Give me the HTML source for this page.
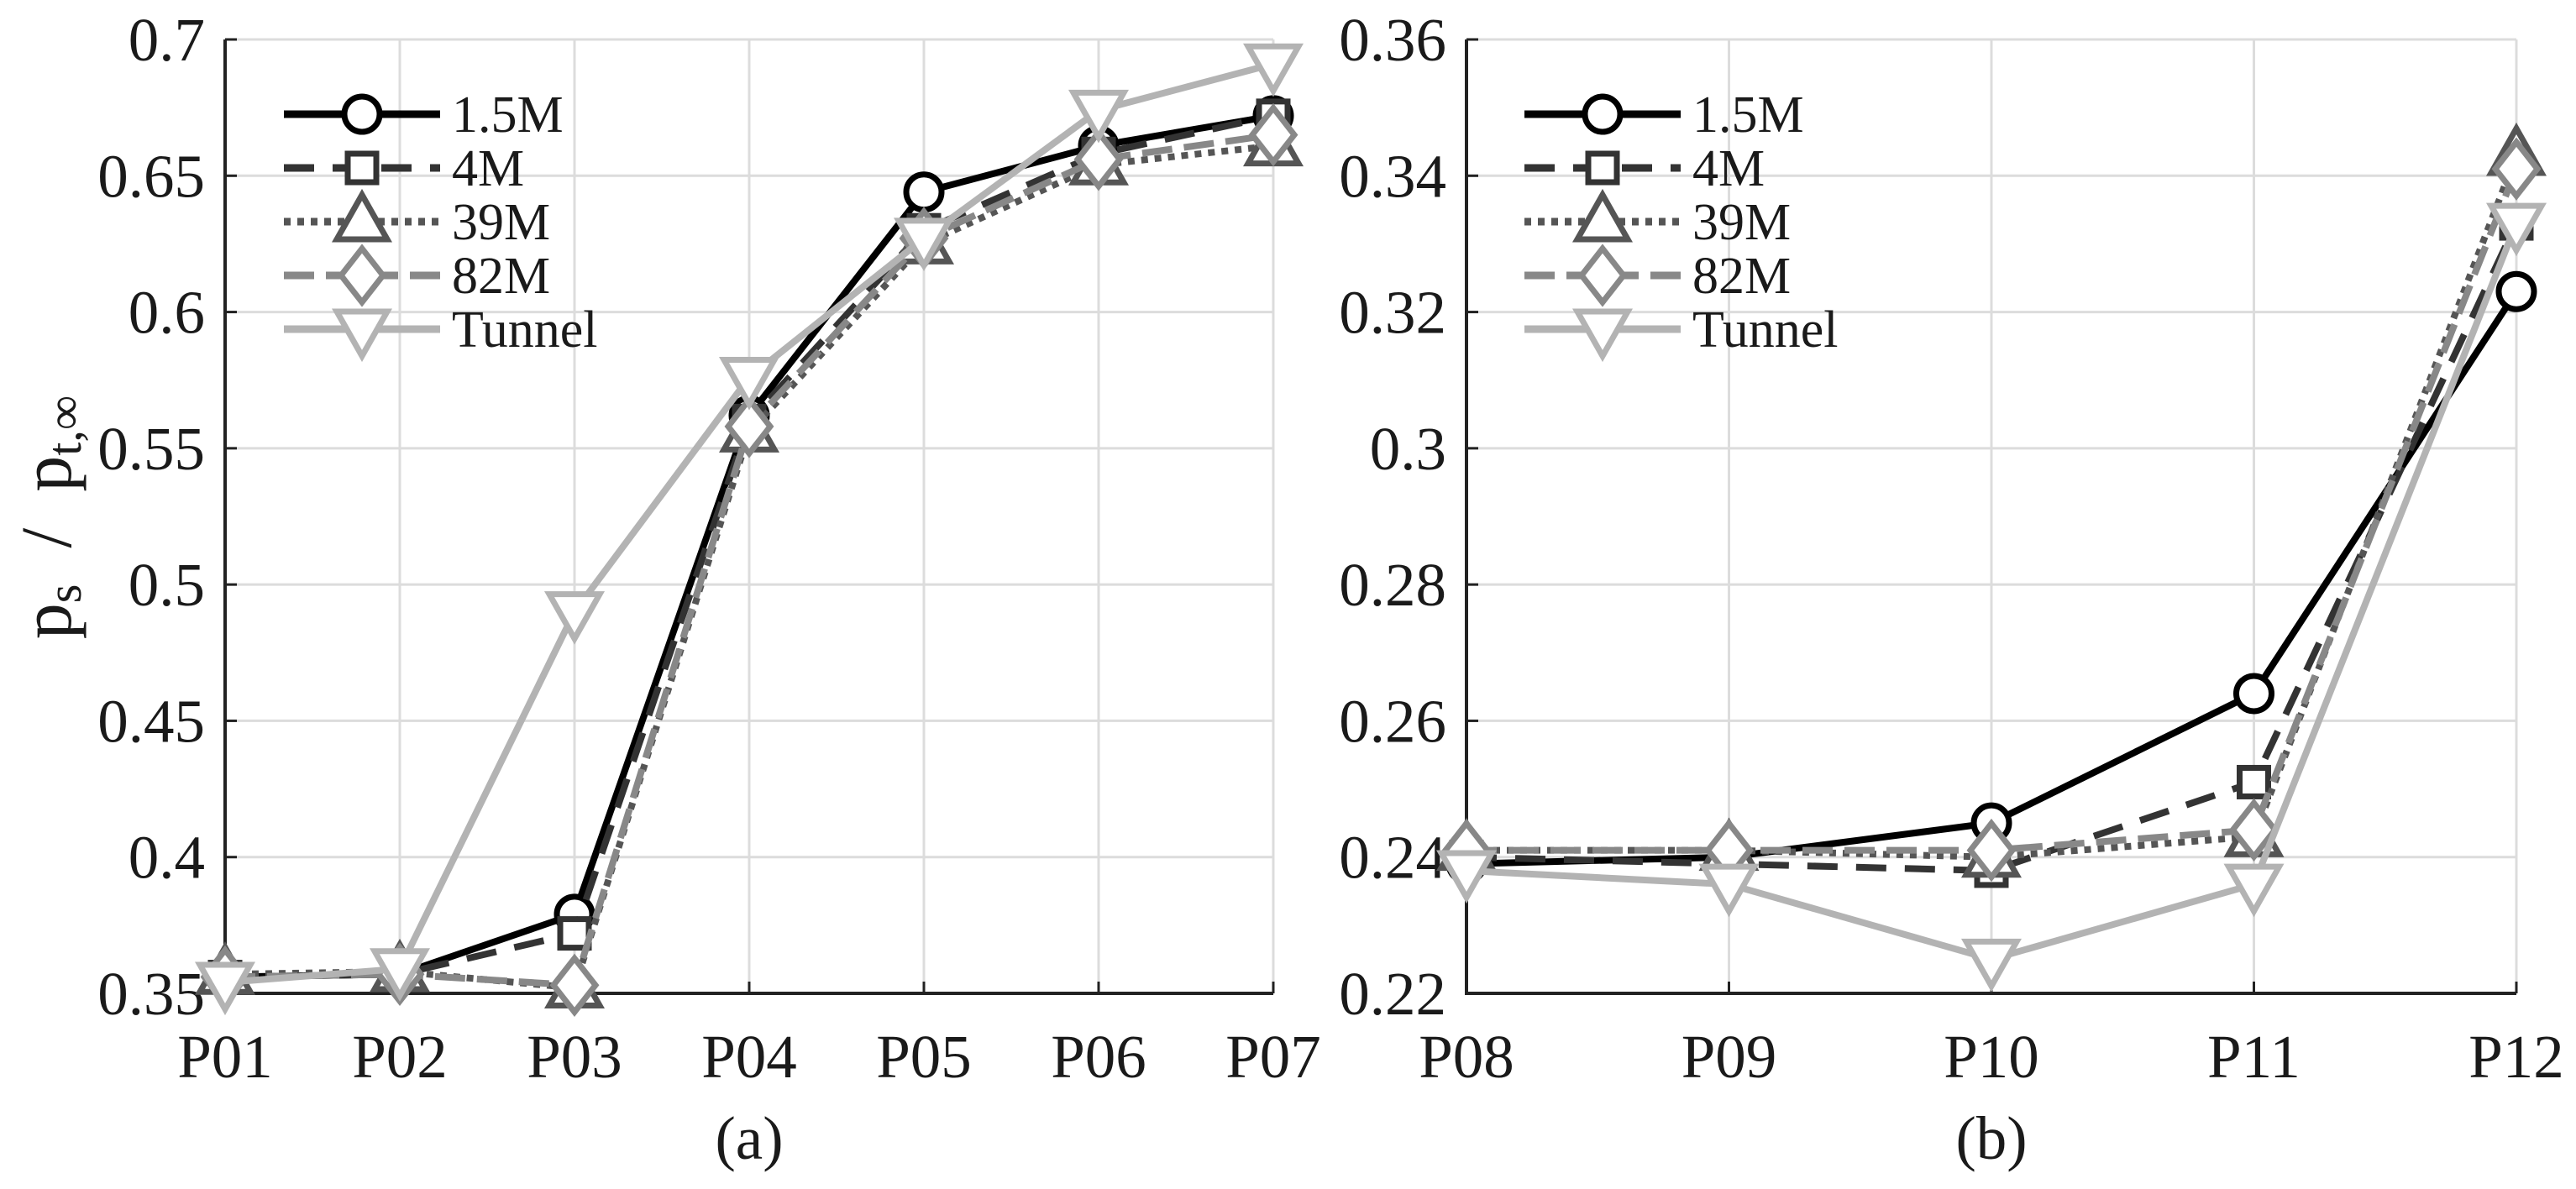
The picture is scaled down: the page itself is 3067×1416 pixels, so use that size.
<!DOCTYPE html>
<html><head><meta charset="utf-8"><style>
html,body{margin:0;padding:0;background:#fff;}
svg{display:block;font-family:"Liberation Serif",serif;}
</style></head><body>
<svg id="chart" width="3067" height="1416" viewBox="0 0 3067 1416" xmlns="http://www.w3.org/2000/svg"></svg>
<script>
const seriesNames = ["1.5M","4M","39M","82M","Tunnel"];
const catsA = ["P01","P02","P03","P04","P05","P06","P07"];
const a15 = [0.356,0.357,0.379,0.562,0.644,0.661,0.672];
const a4 = [0.356,0.357,0.372,0.560,0.630,0.658,0.672];
const a39 = [0.357,0.358,0.352,0.556,0.625,0.654,0.661];
const a82 = [0.356,0.357,0.353,0.558,0.627,0.656,0.665];
const aTun = [0.354,0.359,0.490,0.576,0.627,0.674,0.691];
const ticksA = ["0.35","0.4","0.45","0.5","0.55","0.6","0.65","0.7"];
const catsB = ["P08","P09","P10","P11","P12"];
const b15 = [0.239,0.240,0.245,0.264,0.323];
const b4 = [0.240,0.239,0.238,0.251,0.333];
const b39 = [0.241,0.241,0.240,0.243,0.343];
const b82 = [0.241,0.241,0.241,0.244,0.341];
const bTun = [0.238,0.236,0.225,0.236,0.333];
const ticksB = ["0.22","0.24","0.26","0.28","0.3","0.32","0.34","0.36"];

const NS="http://www.w3.org/2000/svg";
const svg=document.getElementById('chart');
function mk(tag,attrs,parent){const e=document.createElementNS(NS,tag);for(const k in attrs)e.setAttribute(k,attrs[k]);(parent||svg).appendChild(e);return e;}
const styles=[
 {c:"#000",dash:"",m:"circle"},
 {c:"#333",dash:"36 22",m:"square"},
 {c:"#555",dash:"8 8",m:"tri"},
 {c:"#888",dash:"36 14",m:"diamond"},
 {c:"#b3b3b3",dash:"",m:"tridown"}];
function marker(g,type,x,y,col){
  const a={fill:"#fff",stroke:col,"stroke-width":7};
  let e;
  if(type==="circle") e=mk('circle',Object.assign({cx:x,cy:y,r:21},a),g);
  else if(type==="square") e=mk('rect',Object.assign({x:x-17,y:y-17,width:34,height:34},a),g);
  else if(type==="tri") e=mk('polygon',Object.assign({points:`${x},${y-32} ${x+30},${y+21} ${x-30},${y+21}`},a),g);
  else if(type==="diamond") e=mk('polygon',Object.assign({points:`${x},${y-32} ${x+25},${y} ${x},${y+32} ${x-25},${y}`},a),g);
  else e=mk('polygon',Object.assign({points:`${x},${y+32} ${x+30},${y-21} ${x-30},${y-21}`},a),g);
  
  
}
function panel(opt){
  const {x0,x1,y0,y1,vmin,vmax,cats,ticks,series,label,name,legX}=opt;
  const g=mk('g',{});
  
  
  const sx=i=>x0+(x1-x0)*i/(cats.length-1);
  const sy=v=>y1-(v-vmin)/(vmax-vmin)*(y1-y0);
  ticks.forEach(t=>{const y=sy(parseFloat(t));
    const l=mk('line',{x1:x0,x2:x1,y1:y,y2:y,stroke:"#dcdcdc","stroke-width":3},g);
    
    const tk=mk('line',{x1:x0,x2:x0+14,y1:y,y2:y,stroke:"#222","stroke-width":3},g);
    
    const tx=mk('text',{x:x0-24,y:y+25,"text-anchor":"end","font-size":73,fill:"#1a1a1a"},g);
    tx.textContent=t;});
  cats.forEach((c,i)=>{const x=sx(i);
    const l=mk('line',{x1:x,x2:x,y1:y0,y2:y1,stroke:"#dcdcdc","stroke-width":3},g);
    
    const tk=mk('line',{x1:x,x2:x,y1:y1,y2:y1-14,stroke:"#222","stroke-width":3},g);
    
    const tx=mk('text',{x:x,y:1283,"text-anchor":"middle","font-size":73,fill:"#1a1a1a"},g);
    tx.textContent=c;});
  const ax=mk('path',{d:`M${x0},${y0} V${y1} H${x1}`,fill:"none",stroke:"#222","stroke-width":4},g);
  
  const cap=mk('text',{x:(x0+x1)/2,y:1380,"text-anchor":"middle","font-size":73,fill:"#1a1a1a"},g);
  cap.textContent=label;
  for(let s=0;s<series.length;s++){
    const st=styles[s];const vals=series[s];
    const sg=mk('g',{},g);
    
    
    const pts=vals.map((v,i)=>sx(i)+","+sy(v)).join(" ");
    const pl=mk('polyline',{points:pts,fill:"none",stroke:st.c,"stroke-width":8,"stroke-dasharray":st.dash,"stroke-linejoin":"round"},sg);
    
    vals.forEach((v,i)=>marker(sg,st.m,sx(i),sy(v),st.c));
  }
  const lg=mk('g',{},g);
  
  
  seriesNames.forEach((n,s)=>{const st=styles[s];const y=136+s*64;
    const e=mk('g',{},lg);
    
    
    mk('line',{x1:legX,x2:legX+186,y1:y,y2:y,stroke:st.c,"stroke-width":9,"stroke-dasharray":st.dash},e);
    marker(e,st.m,legX+93,y,st.c);
    const t=mk('text',{x:legX+200,y:y+21,"font-size":62,fill:"#1a1a1a"},e);
    t.textContent=n;});
}
panel({x0:268,x1:1516,y0:47,y1:1183,vmin:0.35,vmax:0.7,cats:catsA,ticks:ticksA,series:[a15,a4,a39,a82,aTun],label:"(a)",name:"panel-a",legX:338});
panel({x0:1746,x1:2996,y0:47,y1:1183,vmin:0.22,vmax:0.36,cats:catsB,ticks:ticksB,series:[b15,b4,b39,b82,bTun],label:"(b)",name:"panel-b",legX:1815});
const yl=mk('text',{transform:"translate(84,616) rotate(-90)","text-anchor":"middle","font-size":86,fill:"#1a1a1a"});


yl.innerHTML='p<tspan font-size="58" dy="12">s</tspan><tspan dy="-12" xml:space="preserve">  /  p</tspan><tspan font-size="58" dy="12">t,∞</tspan>';
</script>
</body></html>
